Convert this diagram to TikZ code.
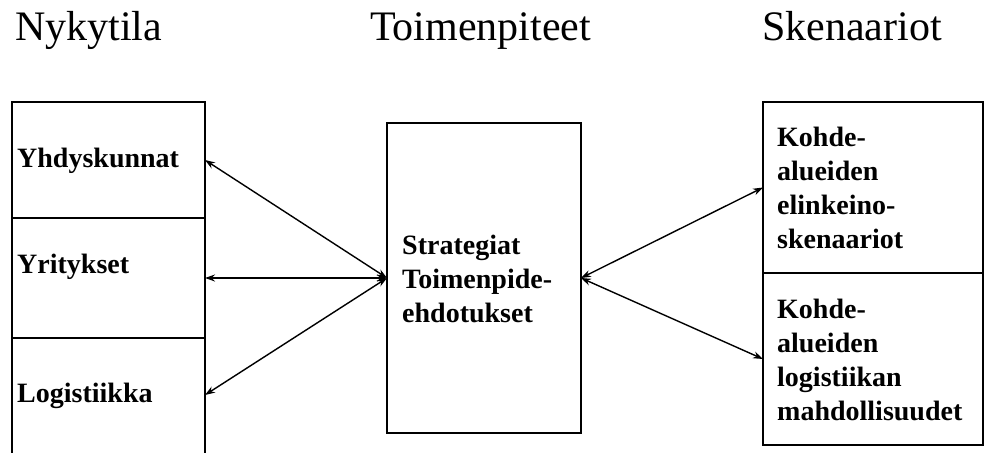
\documentclass[tikz,border=0pt]{standalone}
\usepackage{fontspec}
\setmainfont{Liberation Serif}
\usetikzlibrary{arrows.meta}
\tikzset{
  cell/.style={draw, line width=2.3pt, inner sep=0pt, outer sep=0pt},
  heading/.style={anchor=base west, inner sep=0pt, font=\fontsize{42}{48}\selectfont},
  label/.style={anchor=north west, inner sep=0pt, align=left, font=\fontsize{28}{34}\selectfont\bfseries},
  link/.style={line width=1.4pt, {Stealth[length=10pt,width=7pt]}-{Stealth[length=10pt,width=7pt]}}
}
\begin{document}
\begin{tikzpicture}[x=1pt,y=-1pt]
\useasboundingbox (0,0) rectangle (984,452);

% column headings
\node[heading] (h1) at (15,41) {Nykytila};
\node[heading] (h2) at (370,41) {Toimenpiteet};
\node[heading] (h3) at (762,41) {Skenaariot};

% left column: present state (bottom edge runs off the page)
\node[cell, minimum width=193pt, minimum height=116pt] (yh) at (108.5,160) {};
\node[cell, minimum width=193pt, minimum height=120pt] (yr) at (108.5,278) {};
\node[inner sep=0pt, outer sep=0pt, minimum width=193pt, minimum height=114pt] (lo) at (108.5,395) {};
\draw[line width=2.3pt] (lo.south west) -- (lo.north west) -- (lo.north east) -- (lo.south east);
\draw[line width=2.3pt] (lo.south west) -- ++(0,10);
\draw[line width=2.3pt] (lo.south east) -- ++(0,10);

% centre column: measures
\node[cell, minimum width=194pt, minimum height=310pt] (st) at (484,278) {};

% right column: scenarios
\node[cell, minimum width=220pt, minimum height=171pt] (el) at (873,187.5) {};
\node[cell, minimum width=220pt, minimum height=172pt] (ma) at (873,359) {};

% texts
\node[label] (tyh) at (17,148) {Yhdyskunnat};
\node[label] (tyr) at (17,254) {Yritykset};
\node[label] (tlo) at (17,383) {Logistiikka};
\node[label] (tst) at (402,235) {Strategiat\\Toimenpide-\\ehdotukset};
\node[label] (tel) at (777,127) {Kohde-\\alueiden\\elinkeino-\\skenaariot};
\node[label] (tma) at (777,299) {Kohde-\\alueiden\\logistiikan\\mahdollisuudet};

% connectors
\draw[link] (st.west) -- (yh.east);
\draw[link] (st.west) -- (yr.east);
\draw[link] (st.west) -- (lo.east);
\draw[link] (st.east) -- (el.west);
\draw[link] (st.east) -- (ma.west);
\end{tikzpicture}
\end{document}
